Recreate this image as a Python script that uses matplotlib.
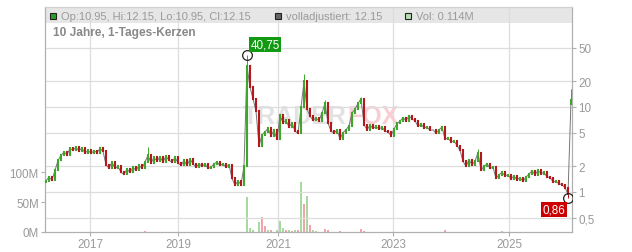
import numpy as np
import matplotlib
matplotlib.use("Agg")
import matplotlib.pyplot as plt
from matplotlib.patches import Rectangle
from matplotlib.ticker import NullLocator

plt.rcParams['font.family'] = ['Liberation Sans', 'DejaVu Sans']

# closing prices, one candle per step
close = [1.35, 1.5, 1.38, 1.8, 2.35, 2.7, 2.95, 2.75, 3.25, 3.1,
         3.35, 3.05, 3.3, 2.85, 3.1, 2.85, 3.05, 2.9, 3.25, 3.0,
         2.1, 1.9, 2.25, 1.9, 2.0, 1.7, 1.62, 1.85, 1.7, 1.95,
         1.8, 2.05, 1.9, 2.25, 2.7, 2.2, 2.55, 2.3, 2.6, 2.25,
         2.65, 2.35, 2.25, 2.55, 2.2, 2.05, 2.35, 2.05, 2.45, 2.15,
         1.95, 2.15, 2.0, 2.15, 1.9, 1.95, 2.15, 2.25, 2.05, 2.15,
         1.95, 2.1, 1.45, 1.2, 1.35, 1.22, 2.0, 30, 17, 12.5,
         9, 3.5, 4.7, 5.1, 5.6, 4.6, 5.3, 4.2, 8.0, 6.5,
         7.0, 5.8, 6.5, 5.2, 4.9, 10, 20, 9.5, 7.8, 7.0,
         7.4, 6.9, 8.5, 11, 6.5, 5.2, 4.9, 5.4, 4.2, 5.0,
         5.4, 6.0, 8.5, 9.5, 11, 12.5, 6.2, 5.4, 6.1, 5.6,
         5.9, 5.5, 5.8, 5.2, 5.1, 4.6, 5.5, 6.4, 6.8, 7.5,
         6.9, 7.9, 7.2, 6.9, 5.9, 6.3, 5.7, 5.8, 5.3, 5.4,
         4.9, 5.4, 5.8, 4.2, 4.3, 3.9, 4.0, 3.5, 3.1, 2.3,
         2.0, 2.4, 2.1, 2.3, 2.9, 1.8, 2.0, 2.15, 1.9, 1.95,
         1.45, 1.6, 1.7, 1.55, 1.6, 1.42, 1.55, 1.38, 1.48, 1.33,
         1.5, 1.62, 1.78, 1.6, 1.8, 1.65, 1.7, 1.5, 1.48, 1.32,
         1.33, 1.25, 1.22, 1.12, 0.95, 12.15]

# wick extremes
hi_idx = [34, 67, 86, 93, 105, 144, 175]
hi_val = [3.4, 40.75, 24.5, 12.0, 13.1, 3.2, 16.3]
lo_idx = [174]
lo_val = [0.86]
last_open = 10.95

# volume in millions (only visible bars)
vol_idx = [33, 67, 68, 69, 71, 72, 73, 74, 75, 77, 78, 79, 80, 81, 82, 83, 84,
           85, 86, 87, 88, 89, 90, 93, 94, 98, 105, 106, 133, 152]
vol_m = [2, 58, 6, 4, 17, 25, 10, 4, 3, 4, 19, 6, 3, 4, 2, 3, 4,
         83, 47, 60, 12, 3, 2, 5, 3, 2, 5, 2, 3, 2]
vol_up = [0, 1, 1, 1, 1, 0, 0, 1, 0, 1, 1, 1, 0, 1, 0, 1, 0,
          1, 0, 1, 0, 1, 1, 0, 0, 0, 0, 0, 0, 1]

year_pos = [14.67, 44.0, 77.33, 115.67, 154.33]
year_lab = ['2017', '2019', '2021', '2023', '2025']
price_ticks = [0.5, 1, 2, 5, 10, 20, 50]
price_lab = ['0,5', '1', '2', '5', '10', '20', '50']

W, H = 632, 253
fig = plt.figure(figsize=(W / 100, H / 100), dpi=100)
ax = fig.add_axes([45 / W, 1 - 233 / H, (572 - 45) / W, (233 - 8) / H])
ax2 = ax.twinx()

UP = '#3fa52c'
DOWN = '#b5171c'
GRID = '#dddddd'
TXT = '#9a9a9a'

n = len(close)
x = np.arange(n)
c = np.array(close)
o = np.r_[c[0] * 0.97, c[:-1]]
o[-1] = last_open
hi = np.maximum(o, c)
lo = np.minimum(o, c)
hi[hi_idx] = hi_val
lo[lo_idx] = lo_val
up = c >= o

# header band and grid on the volume axes
ax.add_patch(Rectangle((0, 1 - 16 / 225), 1, 16 / 225, transform=ax.transAxes,
                       facecolor='#e6e6e6', edgecolor='none', zorder=0))
ax.set_axisbelow(True)
ax.grid(axis='x', color=GRID, lw=0.9)
ax.bar(vol_idx, vol_m, width=0.4,
       color=['#a8d9a0' if u else '#f2a3ab' for u in vol_up], zorder=2)
ax.set_ylim(0, 375)
ax.set_yticks([0, 50, 100])
ax.set_yticklabels(['0M', '50M', '100M'])
ax.set_xlim(-1 / 3, 175.33)
ax.set_xticks(year_pos)
ax.set_xticklabels(year_lab)

# price candles
ax2.set_yscale('log')
ax2.set_ylim(0.3384, 150.1)
ax2.grid(axis='y', color=GRID, lw=0.9)
ax2.plot(x, c, color='#777777', lw=0.7, zorder=2)
cols = np.where(up, UP, DOWN)
ax2.vlines(x, lo, hi, colors=cols, lw=0.7, zorder=3)
ax2.vlines(x, np.minimum(o, c), np.maximum(o, c), colors=cols, lw=1.5,
           zorder=3, capstyle='projecting')
ax2.set_yticks(price_ticks)
ax2.set_yticklabels(price_lab)
ax2.yaxis.set_minor_locator(NullLocator())

# markers and value labels
ipk = int(np.argmax(hi))
ilo = int(np.argmin(lo))
ax2.plot([ipk, ilo], [hi[ipk], lo[ilo]], 'o', ms=7, mfc='none', mec='#222222',
         mew=0.9, zorder=5)
ax2.annotate('40,75', (ipk, hi[ipk]), xytext=(13, 7.5), textcoords='offset points',
             ha='center', va='center', color='white', fontsize=8.4,
             bbox=dict(boxstyle='square,pad=0.15', fc='#129a12', ec='none'), zorder=6)
ax2.annotate('0,86', (ilo, lo[ilo]), xytext=(-10, -8.5), textcoords='offset points',
             ha='center', va='center', color='white', fontsize=8.4,
             bbox=dict(boxstyle='square,pad=0.15', fc='#cc0000', ec='none'), zorder=6)

# watermark
ax2.text(347 / W, 1 - 117 / H, 'TRADER', transform=fig.transFigure, ha='right',
         va='center', fontsize=18, fontweight='bold', color='#e2e2e2', zorder=1)
ax2.text(347 / W, 1 - 117 / H, 'FOX', transform=fig.transFigure, ha='left',
         va='center', fontsize=18, fontweight='bold', color='#f8cdd4', zorder=1)

for a in (ax, ax2):
    for s in a.spines.values():
        s.set_color('#b0b0b0')
    a.spines['top'].set_color('#d0d0d0')
    a.tick_params(colors='#b0b0b0', labelcolor=TXT, labelsize=8.4, length=3,
                  width=0.8, pad=1.5)

# header legend
def fx(px):
    return px / W

def fy(py):
    return 1 - py / H

for px, col in [(50, '#2aa02a'), (275, '#666666'), (405, '#b5ddb0')]:
    fig.patches.append(Rectangle((fx(px), fy(19.5)), 6 / W, 6 / H,
                                 transform=fig.transFigure, facecolor=col,
                                 edgecolor='#222222', lw=0.8))
fig.text(fx(61), fy(16.5), 'Op:10.95, Hi:12.15, Lo:10.95, Cl:12.15',
         fontsize=8, color=TXT, va='center')
fig.text(fx(286), fy(16.5), 'volladjustiert: 12.15', fontsize=8, color=TXT,
         va='center')
fig.text(fx(416), fy(16.5), 'Vol: 0.114M', fontsize=8, color=TXT, va='center')
fig.text(fx(53), fy(33), '10 Jahre, 1-Tages-Kerzen', fontsize=8.6,
         fontweight='bold', color='#888888', va='center')

fig.savefig('out.png', dpi=100)
